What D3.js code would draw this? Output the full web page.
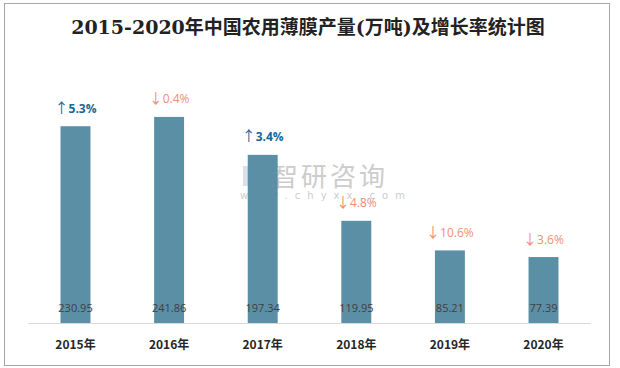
<!DOCTYPE html>
<html><head><meta charset="utf-8">
<script src="https://cdn.jsdelivr.net/npm/d3@7"></script>
<style>body{margin:0;background:#fff}svg{display:block}</style>
</head><body>
<svg id="c" width="620" height="368"></svg>
<script>
const years = ["2015年","2016年","2017年","2018年","2019年","2020年"];
const output = [230.95, 241.86, 197.34, 119.95, 85.21, 77.39];
const growth = [5.3, -0.4, 3.4, -4.8, -10.6, -3.6];
const title = "2015-2020年中国农用薄膜产量(万吨)及增长率统计图";

const svg = d3.select("#c");
svg.append("rect").attr("x",4.5).attr("y",3.5).attr("width",605).attr("height",362)
  .attr("fill","#fff").attr("stroke","#a6a6a6").attr("stroke-width",1);

svg.append("text").attr("x",308).attr("y",34).attr("text-anchor","middle")
  .attr("font-family","'DejaVu Serif','Liberation Serif','Noto Sans CJK SC',serif")
  .attr("font-size",19).attr("font-weight","bold").attr("fill","#222").text(title);

const x = d3.scaleBand().domain(years).range([28.7, 590.3]).paddingInner(0.68).paddingOuter(0.34);
const y = d3.scaleLinear().domain([0, 300]).range([323, 67.4]);

// watermark
const wm = svg.append("g").attr("opacity",0.5);
wm.append("text").attr("x",272).attr("y",186).attr("font-family","'Noto Sans CJK SC',sans-serif")
  .attr("font-size",26).attr("fill","#9a9a9a").attr("letter-spacing",3).text("智研咨询");
wm.append("text").attr("x",240).attr("y",199).attr("font-family","'DejaVu Sans',sans-serif")
  .attr("font-size",10).attr("fill","#9a9a9a").attr("letter-spacing",7).text("www.chyxx.com");
wm.append("rect").attr("x",243).attr("y",166).attr("width",10).attr("height",20).attr("fill","#b8c4d6");
wm.append("rect").attr("x",255).attr("y",166).attr("width",10).attr("height",20).attr("fill","#c8d0dc");

svg.append("g").selectAll("rect").data(output).join("rect")
  .attr("x",(d,i)=>x(years[i])).attr("y",d=>y(d))
  .attr("width",x.bandwidth()).attr("height",d=>y(0)-y(d))
  .attr("fill","#5b8fa6");

svg.append("line").attr("x1",28).attr("x2",591).attr("y1",323.5).attr("y2",323.5)
  .attr("stroke","#d9d9d9").attr("stroke-width",1);

const xAxis = svg.append("g").attr("transform","translate(0,323)")
  .call(d3.axisBottom(x).tickSize(0).tickPadding(17));
xAxis.select(".domain").remove();
xAxis.selectAll("text").attr("font-family","'Noto Sans CJK SC','DejaVu Sans',sans-serif")
  .attr("font-size",12).attr("font-weight","bold").attr("fill","#262626");

svg.append("g").selectAll("text").data(output).join("text")
  .attr("x",(d,i)=>x(years[i])+x.bandwidth()/2).attr("y",312)
  .attr("text-anchor","middle").attr("font-family","'Open Sans','DejaVu Sans',sans-serif")
  .attr("font-size",11).attr("fill","#404040").text(d=>d.toFixed(2));

const gl = svg.append("g").selectAll("text").data(growth).join("text")
  .attr("x",(d,i)=>x(years[i])+x.bandwidth()/2).attr("y",(d,i)=>y(output[i])-13.5)
  .attr("text-anchor","middle").attr("font-family","'Open Sans','DejaVu Sans',sans-serif")
  .attr("font-size",12).attr("font-weight",d=>d>0?"bold":"normal")
  .attr("fill",d=>d>0?"#17679a":"#f28e6f");
gl.append("tspan").attr("font-family","'Noto Sans CJK SC',sans-serif").attr("font-weight","normal")
  .attr("font-size",14).text(d=>d>0?"↑":"↓");
gl.append("tspan").text(d=>Math.abs(d).toFixed(1)+"%");
</script>
</body></html>
